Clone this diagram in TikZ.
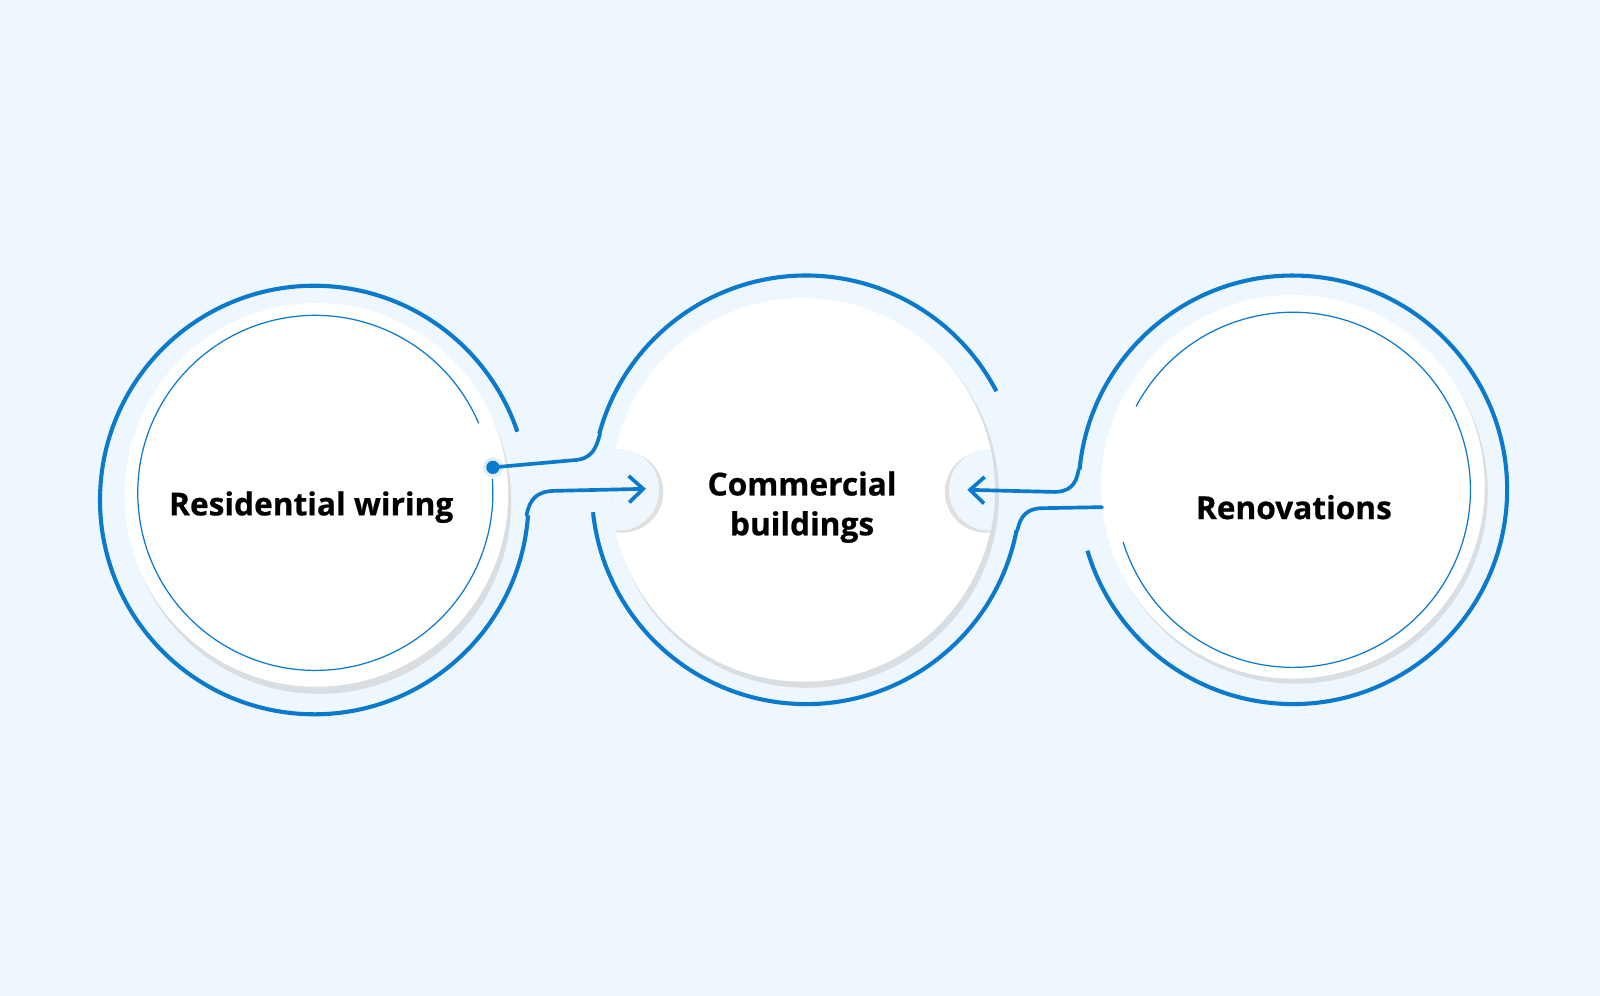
\documentclass[tikz,border=0pt]{standalone}
\usepackage{fontspec}
\setmainfont{Open Sans}[FakeBold=0.6]
\usetikzlibrary{arrows.meta}
\definecolor{bg}{HTML}{EEF7FD}
\definecolor{bl}{HTML}{0B79CC}
\begin{document}
\begin{tikzpicture}[x=0.5pt,y=-0.5pt,
  outer/.style={draw=bl,line width=2pt},
  inner/.style={draw=bl,line width=0.6pt},
  conn/.style={draw=bl,line width=1.8pt,line cap=round},
  disc/.style={fill=white},
  shad/.style={fill=black!35,opacity=0.3},
  lbl/.style={font=\bfseries\fontsize{15.5pt}{19.5pt}\selectfont,align=center,text=black}]
\fill[bg] (0,0) rectangle (1568,976);
\useasboundingbox (0,0) rectangle (1568,976);
% centers
\coordinate (L) at (308,490);
\coordinate (M) at (790,480);
\coordinate (R) at (1267,480);
% discs with shadows
\fill[shad] (313,492) circle (188);
\fill[disc] (310,485) circle (188);
\fill[shad] (790,485) circle (189);
\fill[disc] (787,480) circle (188);
\fill[shad] (1270,482) circle (188);
\fill[disc] (1267,477) circle (188);
% bumps (clipped to the middle disc)
\begin{scope}
\clip (787,480) circle (188);
\fill[black!12] (610,482) circle (40);
\fill[bg] (606,480) circle (40);
\fill[black!12] (966,482) circle (40);
\fill[bg] (970,480) circle (40);
\end{scope}
% inner rings
\draw[inner] (309,483) ++(-4.6:174) arc (-4.6:337:174);
\draw[inner] (1267,480) ++(-152:174) arc (-152:163:174);
% outer arcs
\draw[outer] (L) ++(4.1:210) arc (4.1:341.4:210);
\draw[outer] (M) ++(195.2:210) arc (195.2:332.6:210);
\draw[outer] (M) ++(10.9:210) arc (10.9:174:210);
\draw[outer] (R) ++(185.4:210) arc (185.4:523.5:210);
% connector points
\coordinate (dot) at (483,458);
\coordinate (a1) at (588,425);
\coordinate (tipL) at (633,479);
\coordinate (b1) at (516,505);
\coordinate (tipR) at (948,480);
\coordinate (c1) at (1057,460);
\coordinate (d0) at (1080,497);
\coordinate (d1) at (997,520);
\fill[bl!12] (dot) circle (10);
\fill[bl] (dot) circle (6.5);
\draw[conn] (dot) -- (562,451) .. controls (580,450) and (584,440) .. (a1);
\draw[conn,-{Straight Barb[length=7pt,width=13pt]}] (b1) .. controls (519,490) and (525,481) .. (545,481) -- (tipL);
\draw[conn,-{Straight Barb[length=7pt,width=13pt]}] (c1) .. controls (1055,475) and (1048,483) .. (1030,482) -- (tipR);
\draw[conn] (d0) -- (1022,498) .. controls (1007,498) and (1000,505) .. (d1);
% labels
\node[lbl] (t1) at (305,497) {Residential wiring};
\node[lbl] (t2) at (786,497) {Commercial\\buildings};
\node[lbl] (t3) at (1268,497) {Renovations};
\end{tikzpicture}
\end{document}
